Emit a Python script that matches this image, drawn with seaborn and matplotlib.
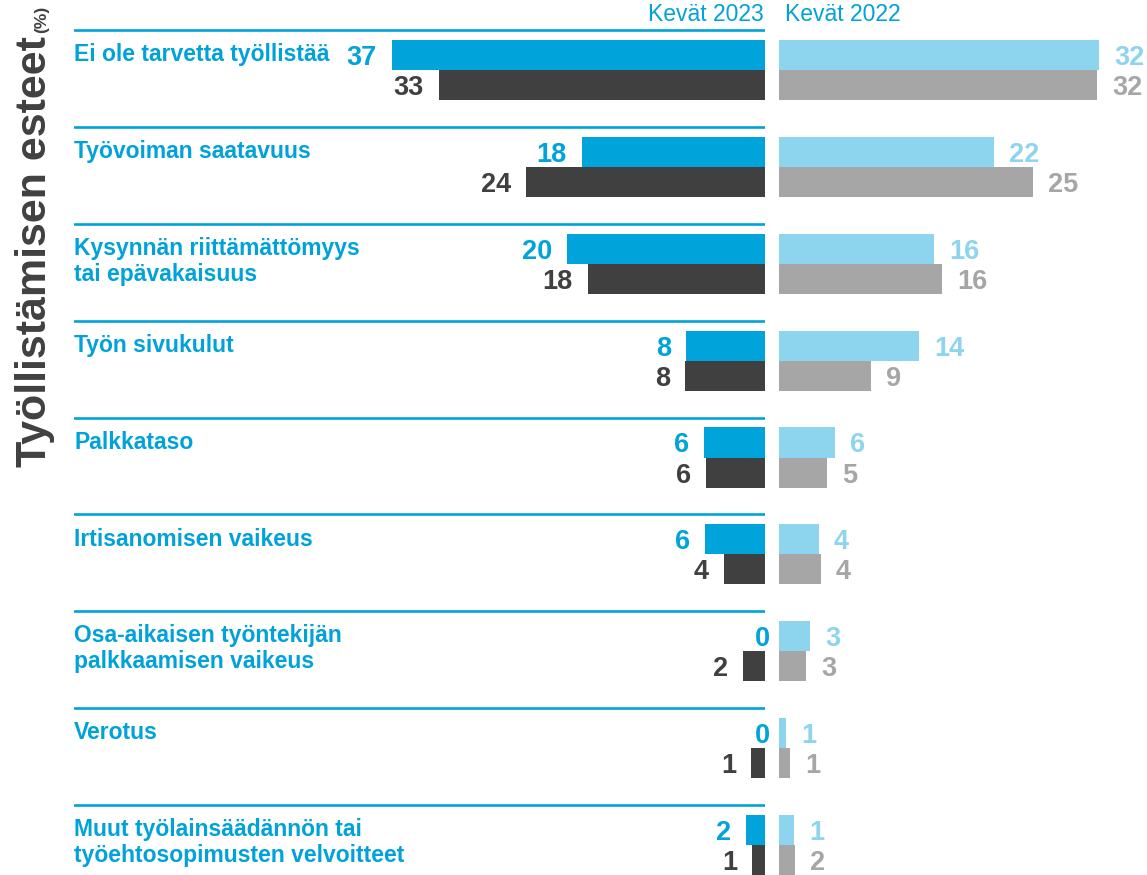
import pandas as pd
import seaborn as sns
import matplotlib.pyplot as plt

esteet = [
    "Ei ole tarvetta työllistää",
    "Työvoiman saatavuus",
    "Kysynnän riittämättömyys\ntai epävakaisuus",
    "Työn sivukulut",
    "Palkkataso",
    "Irtisanomisen vaikeus",
    "Osa-aikaisen työntekijän\npalkkaamisen vaikeus",
    "Verotus",
    "Muut työlainsäädännön tai\ntyöehtosopimusten velvoitteet",
]

# bar lengths (%)
k2023_a = [37.3, 18.3, 19.8, 7.9, 6.1, 6.0, 0.0, 0.0, 1.9]
k2023_b = [32.6, 23.9, 17.7, 8.0, 5.9, 4.1, 2.2, 1.4, 1.3]
k2022_a = [32.0, 21.5, 15.5, 14.0, 5.6, 4.0, 3.1, 0.7, 1.5]
k2022_b = [31.8, 25.4, 16.3, 9.2, 4.8, 4.2, 2.7, 1.1, 1.6]

# printed (rounded) values
lab2023_a = [37, 18, 20, 8, 6, 6, 0, 0, 2]
lab2023_b = [33, 24, 18, 8, 6, 4, 2, 1, 1]
lab2022_a = [32, 22, 16, 14, 6, 4, 3, 1, 1]
lab2022_b = [32, 25, 16, 9, 5, 4, 3, 1, 2]

BLUE = "#00A3DA"
DARK = "#404040"
LBLUE = "#8DD5EE"
GRAY = "#A6A6A6"
TXT = "#00A2D9"

sns.set_style("white")
plt.rcParams["font.family"] = ["Liberation Sans", "DejaVu Sans"]


def long_df(a, b):
    return pd.DataFrame({
        "este": esteet * 2,
        "arvo": a + b,
        "sarja": ["a"] * len(a) + ["b"] * len(b),
    })


W, H = 1147, 875
fig = plt.figure(figsize=(W / 100, H / 100), dpi=100)
axL = fig.add_axes([74 / W, 0, 691 / W, 1])
axR = fig.add_axes([779 / W, 0, 368 / W, 1])

sns.barplot(data=long_df(k2023_a, k2023_b), x="arvo", y="este", hue="sarja",
            orient="h", palette=[BLUE, DARK], width=0.62, saturation=1,
            linewidth=0, errorbar=None, legend=False, ax=axL)
sns.barplot(data=long_df(k2022_a, k2022_b), x="arvo", y="este", hue="sarja",
            orient="h", palette=[LBLUE, GRAY], width=0.62, saturation=1,
            linewidth=0, errorbar=None, legend=False, ax=axR)

pitch = 96.875  # px per row
top = -70 / pitch
line_off = 40 / pitch
for ax in (axL, axR):
    ax.set_ylim(len(esteet) - 1 + 30 / pitch, top)
    ax.axis("off")
axL.set_xlim(69.1, 0)
axR.set_xlim(0, 36.8)


def put_labels(ax, labs, colors, left):
    for cont, lab, col in zip(ax.containers, labs, colors):
        for bar, txt in zip(cont, lab):
            w = bar.get_width()
            y = bar.get_y() + bar.get_height() / 2
            pad = 15 if w > 0 else -5
            dx = -pad * 0.72 if left else pad * 0.72
            ax.annotate(str(txt), xy=(w, y), xytext=(dx, 0),
                        textcoords="offset points",
                        ha="right" if left else "left", va="center_baseline",
                        fontsize=19.5, fontweight="bold", color=col)


put_labels(axL, [lab2023_a, lab2023_b], [BLUE, DARK], True)
put_labels(axR, [lab2022_a, lab2022_b], [LBLUE, GRAY], False)

for i, name in enumerate(esteet):
    y_line = i - line_off
    axL.axhline(y_line, color=BLUE, lw=1.9)
    axL.annotate(name, xy=(0, y_line), xycoords=("axes fraction", "data"),
                 xytext=(0, -9.5), textcoords="offset points",
                 ha="left", va="top", fontsize=16.5, fontweight="bold",
                 color=TXT, linespacing=1.15)

axL.annotate("Kevät 2023", xy=(0, -line_off), xytext=(-1, 6.5),
             textcoords="offset points", ha="right", va="baseline",
             fontsize=16.5, color=TXT)
axR.annotate("Kevät 2022", xy=(0, -line_off), xytext=(4.3, 6.5),
             textcoords="offset points", ha="left", va="baseline",
             fontsize=16.5, color=TXT)

fig.text(35 / W, 1 - 467 / H, "Työllistämisen esteet", rotation=90,
         ha="center", va="bottom", fontsize=31, fontweight="bold", color=DARK)
fig.text(42 / W, 1 - 33 / H, "(%)", rotation=90, ha="center", va="bottom",
         fontsize=12.5, fontweight="bold", color=DARK)

fig.savefig("out.png", dpi=100)
